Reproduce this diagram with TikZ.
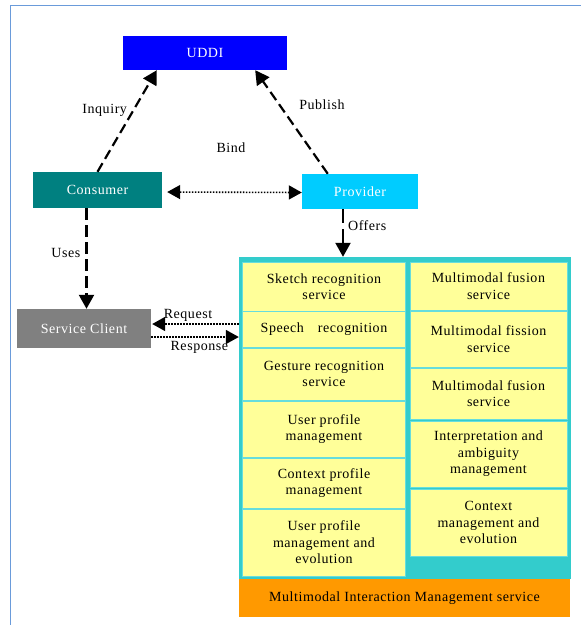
\documentclass[tikz,border=0pt]{standalone}
\usepackage{fontspec}
\setmainfont{Liberation Serif}[LetterSpace=4]
\usetikzlibrary{arrows.meta}

\definecolor{uddiblue}{HTML}{0000FF}
\definecolor{consteal}{HTML}{008080}
\definecolor{provcyan}{HTML}{00CCFF}
\definecolor{clientgray}{HTML}{808080}
\definecolor{boxcyan}{HTML}{33CCCC}
\definecolor{cellyellow}{HTML}{FFFF99}
\definecolor{celledge}{HTML}{66DDDD}
\definecolor{barorange}{HTML}{FF9900}
\definecolor{frameblue}{HTML}{6A9BDA}

\begin{document}
\begin{tikzpicture}[x=1pt,y=-1pt,
    every node/.style={font=\fontsize{14}{16.5}\selectfont},
    actor/.style={inner sep=0pt, text=white},
    cell/.style={fill=cellyellow, draw=celledge, line width=1pt, inner sep=0pt,
                 align=center, minimum width=#1},
    cell/.default=163pt,
    dasharrow/.style={line width=2.2pt, dash pattern=on 10pt off 5pt,
                      -{Triangle[length=14pt,width=15pt]}},
    dotarrow/.style={line width=1.6pt, dash pattern=on 1.5pt off 1.5pt,
                     -{Triangle[length=13pt,width=14pt]}},
    lbl/.style={inner sep=1pt}]

  \useasboundingbox (0,0) rectangle (581,625);
  \draw[frameblue, line width=1.5pt] (10.5,626) -- (10.5,5.5) -- (582,5.5);

  % registry triangle
  \node[actor, fill=uddiblue, minimum width=164pt, minimum height=34pt] (uddi) at (205,53) {UDDI};
  \node[actor, fill=consteal, minimum width=129pt, minimum height=36pt] (cons) at (97.5,190) {Consumer};
  \node[actor, fill=provcyan, minimum width=116pt, minimum height=35pt] (prov) at (360,191.5) {Provider};
  \node[actor, fill=clientgray, minimum width=134pt, minimum height=39pt] (client) at (84,328.5) {Service Client};

  % service container
  \node[fill=boxcyan, inner sep=0pt, minimum width=332pt, minimum height=322pt] (box) at (405,418) {};
  \node[fill=barorange, inner sep=0pt, minimum width=331pt, minimum height=38pt] (bar) at (404.5,598)
    {Multimodal Interaction Management service};

  \node[cell, minimum height=49pt] (l1) at (324,286.5) {Sketch recognition\\service};
  \node[cell, minimum height=36pt] (l2) at (324,329) {Speech\quad recognition};
  \node[cell, minimum height=52pt] (l3) at (324,374) {Gesture recognition\\service};
  \node[cell, minimum height=56pt] (l4) at (324,429) {User profile\\management};
  \node[cell, minimum height=50pt] (l5) at (324,483) {Context profile\\management};
  \node[cell, minimum height=67pt] (l6) at (324,542.5) {User profile\\management and\\evolution};

  \node[cell=157pt, minimum height=48pt] (r1) at (488.5,286) {Multimodal fusion\\service};
  \node[cell=157pt, minimum height=56pt] (r2) at (488.5,339) {Multimodal fission\\service};
  \node[cell=157pt, minimum height=51pt] (r3) at (488.5,393.5) {Multimodal fusion\\service};
  \node[cell=157pt, minimum height=66pt] (r4) at (488.5,454) {Interpretation and\\ambiguity\\management};
  \node[cell=157pt, minimum height=67pt] (r5) at (488.5,522.5) {Context\\management and\\evolution};

  % connectors
  \draw[dasharrow] (cons.north) -- ([xshift=34pt]uddi.south west)
    node[lbl, pos=0.6, left=4pt] {Inquiry};
  \draw[dasharrow] ([xshift=26pt]prov.north west) -- ([xshift=-32pt]uddi.south east)
    node[lbl, pos=0.67, right=18pt] {Publish};
  \node[lbl] (bind) at (231,148) {Bind};
  \draw[dotarrow, {Triangle[length=13pt,width=14pt]}-{Triangle[length=13pt,width=14pt]}, shorten <=5pt]
    ([yshift=-2pt]cons.east) -- ([yshift=-1pt]prov.west);
  \draw[dasharrow, dash pattern=on 12pt off 5pt] ([xshift=-11pt]cons.south) coordinate (u)
    -- (u |- client.north) node[lbl, pos=0.45, left=4pt] {Uses};
  \draw[dasharrow, dash pattern=on 14pt off 6pt] ([xshift=-17pt]prov.south) coordinate (o)
    -- (o |- box.north) node[lbl, pos=0.35, right=3pt] {Offers};
  \draw[dotarrow, shorten >=1pt] (box.west |- 0,324) coordinate (q) -- ([yshift=4.5pt]client.east)
    node[lbl, pos=0.58, above=1pt] {Request};
  \draw[dotarrow] ([yshift=-8.5pt]client.east) -- (box.west |- 0,337)
    node[lbl, pos=0.55, below=3pt] {Response};
\end{tikzpicture}
\end{document}
